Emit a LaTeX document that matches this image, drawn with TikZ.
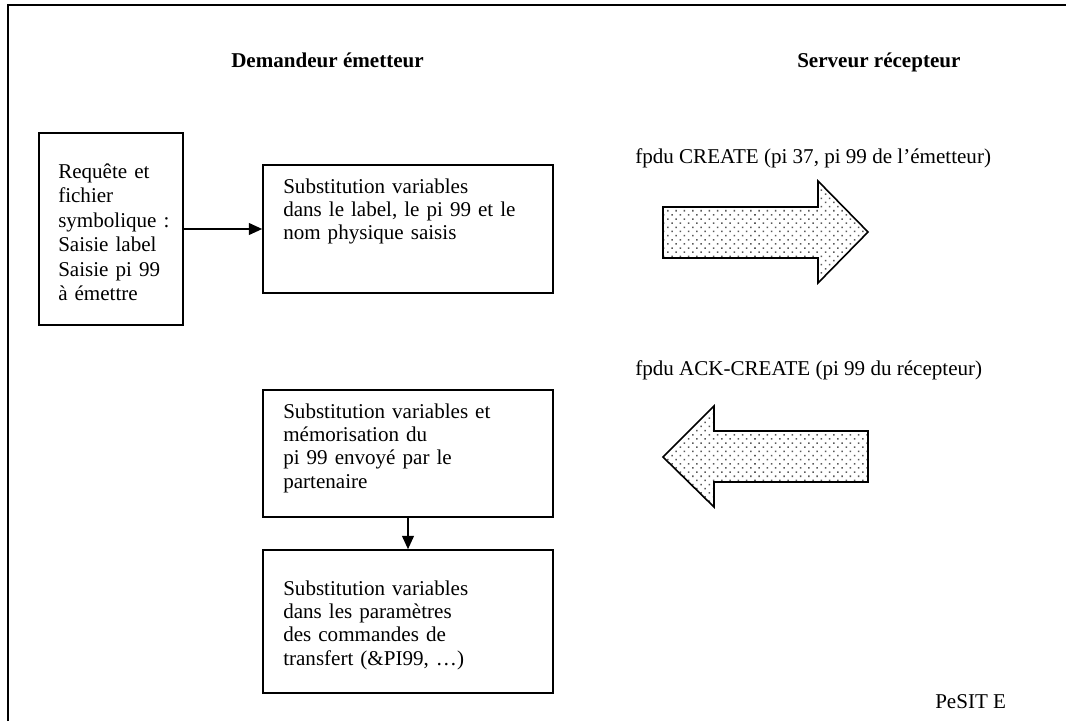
\documentclass[tikz,border=0pt]{standalone}
\usepackage{fontspec}
\setmainfont{Liberation Serif}
\usetikzlibrary{arrows.meta,fit,patterns.meta}
\begin{document}
\begin{tikzpicture}[x=0.75pt,y=-0.75pt,
  frame/.style={line width=1.3pt},
  box/.style={draw, line width=1.3pt, inner sep=0pt},
  txt/.style={anchor=base west, inner sep=0pt, align=left, text width=260pt,
    font=\fontsize{15.8}{17.6}\selectfont},
  txtA/.style={txt, font=\fontsize{15.8}{18.4}\selectfont},
  hdr/.style={anchor=base west, inner sep=0pt, font=\fontsize{15.8}{18}\selectfont\bfseries},
  lab/.style={anchor=base west, inner sep=0pt, font=\fontsize{15.8}{18}\selectfont},
  conn/.style={line width=0.9pt, -{Triangle[length=10pt,width=9pt]}},
  blockarrow/.style={draw, line width=1.2pt, line join=miter,
    pattern={Dots[distance=4.4pt,radius=0.8pt,angle=45]}, pattern color=black!65}
]
\useasboundingbox (0,0) rectangle (1066,721);
% frame (only top and left edges visible)
\draw[frame] (8,721) -- (8,5) -- (1066,5);

% headers
\node[hdr] (hdrA) at (231,67) {Demandeur émetteur};
\node[hdr] (hdrB) at (797,67) {Serveur récepteur};

% boxes
\node[box, fit={(39,133) (183,325)}] (b1) {};
\node[box, fit={(263,165) (553,293)}] (b2) {};
\node[box, fit={(263,390) (553,517)}] (b3) {};
\node[box, fit={(263,550) (553,693)}] (b4) {};

% box texts
\node[txtA] (t1) at (58,178) {Requête et\\fichier\\symbolique :\\Saisie label\\Saisie pi 99\\à émettre};
\node[txt] (t2) at (283,193) {Substitution variables\\dans le label, le pi 99 et le\\nom physique saisis};
\node[txt] (t3) at (283,418) {Substitution variables et\\mémorisation du\\pi 99 envoyé par le\\partenaire};
\node[txt] (t4) at (283,595) {Substitution variables\\dans les paramètres\\des commandes de\\transfert (\&PI99, …)};

% connectors
\draw[conn] (b1.east) -- (b2.west);
\draw[conn] (b3.south) -- (b4.north);

% labels
\node[lab] (l1) at (635,163) {fpdu CREATE (pi 37, pi 99 de l’émetteur)};
\node[lab] (l2) at (635,375) {fpdu ACK-CREATE (pi 99 du récepteur)};
\node[lab] (pe) at (935,708) {PeSIT E};

% block arrows
\draw[blockarrow] (663,207) -- (818,207) -- (818,181) -- (868,232) -- (818,283) -- (818,258) -- (663,258) -- cycle;
\draw[blockarrow] (868,431) -- (714,431) -- (714,406) -- (663,457) -- (714,507) -- (714,482) -- (868,482) -- cycle;
\end{tikzpicture}
\end{document}
